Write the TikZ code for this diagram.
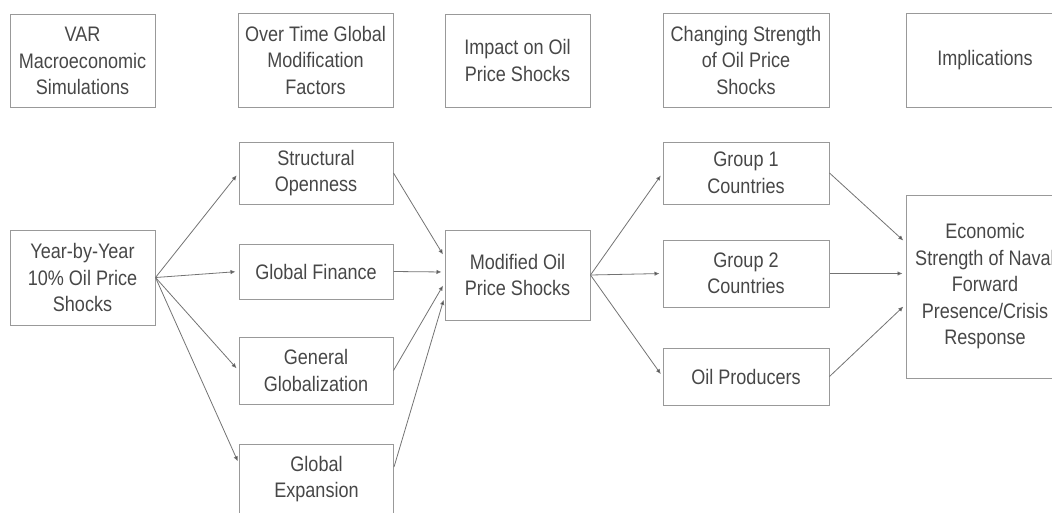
\documentclass[tikz,border=0pt]{standalone}
\usepackage{fontspec}
\setmainfont{Liberation Sans}[FakeStretch=0.86]
\usetikzlibrary{arrows.meta}
\begin{document}
\begin{tikzpicture}[x=1pt,y=-1pt,
	box/.style={draw=black!40,line width=1pt,align=center,text=black!72,inner sep=0pt,
		font=\fontsize{21}{26.5}\selectfont},
	link/.style={draw=black!55,line width=0.8pt,-{Latex[length=5pt,width=4.5pt,fill=black!80]},shorten >=3pt}]
		\useasboundingbox (0,0) rectangle (1052,512);
		\node[box,minimum width=145pt,minimum height=93pt] (var) at (82.5,61) {VAR\\Macroeconomic\\Simulations};
		\node[box,minimum width=155pt,minimum height=94pt] (overtime) at (315.5,60) {Over Time Global\\Modification\\Factors};
		\node[box,minimum width=145pt,minimum height=93pt] (impact) at (517.5,60.5) {Impact on Oil\\Price Shocks};
		\node[box,minimum width=166pt,minimum height=94pt] (changing) at (746,60) {Changing Strength\\of Oil Price\\Shocks};
		\node[box,minimum width=158pt,minimum height=94pt] (implic) at (985,60) {Implications};
		\node[box,minimum width=145pt,minimum height=95pt] (year) at (82.5,277.5) {Year-by-Year\\10\% Oil Price\\Shocks};
		\node[box,minimum width=154pt,minimum height=62pt] (struct) at (316,173) {Structural\\Openness};
		\node[box,minimum width=154pt,minimum height=55pt] (finance) at (316,271.5) {Global Finance};
		\node[box,minimum width=154pt,minimum height=67pt] (general) at (316,370.5) {General\\Globalization};
		\node[box,minimum width=154pt,minimum height=70pt] (expansion) at (316.5,479) {Global\\Expansion};
		\node[box,minimum width=145pt,minimum height=90pt] (modified) at (517.5,275) {Modified Oil\\Price Shocks};
		\node[box,minimum width=166pt,minimum height=62pt] (group1) at (746,173) {Group 1\\Countries};
		\node[box,minimum width=166pt,minimum height=67pt] (group2) at (746,273.5) {Group 2\\Countries};
		\node[box,minimum width=166pt,minimum height=57pt] (oilprod) at (746,376.5) {Oil Producers};
		\node[box,minimum width=158pt,minimum height=183pt] (econ) at (985,286.5) {Economic\\Strength of Naval\\Forward\\Presence/Crisis\\Response};
		\coordinate (m1) at ([yshift=18pt]modified.west);
		\coordinate (m2) at ([yshift=3pt]modified.west);
		\coordinate (m3) at ([yshift=-8pt]modified.west);
		\coordinate (m4) at ([yshift=-22pt]modified.west);
		\coordinate (e1) at ([yshift=44pt]econ.west);
		\coordinate (e2) at ([yshift=13pt]econ.west);
		\coordinate (e3) at ([yshift=-18pt]econ.west);
		\coordinate (x1) at ([yshift=15pt]expansion.west);
		\coordinate (x2) at ([yshift=12pt]expansion.east);
		\draw[link] (year.east) -- (struct.west);
		\draw[link] (year.east) -- (finance.west);
		\draw[link] (year.east) -- (general.west);
		\draw[link] (year.east) -- (x1);
		\draw[link] (struct.east) -- (m1);
		\draw[link] (finance.east) -- (m2);
		\draw[link] (general.east) -- (m3);
		\draw[link] (x2) -- (m4);
		\draw[link] (modified.east) -- (group1.west);
		\draw[link] (modified.east) -- (group2.west);
		\draw[link] (modified.east) -- (oilprod.west);
		\draw[link] (group1.east) -- (e1);
		\draw[link] (group2.east) -- (e2);
		\draw[link] (oilprod.east) -- (e3);
	\end{tikzpicture}
\end{document}
